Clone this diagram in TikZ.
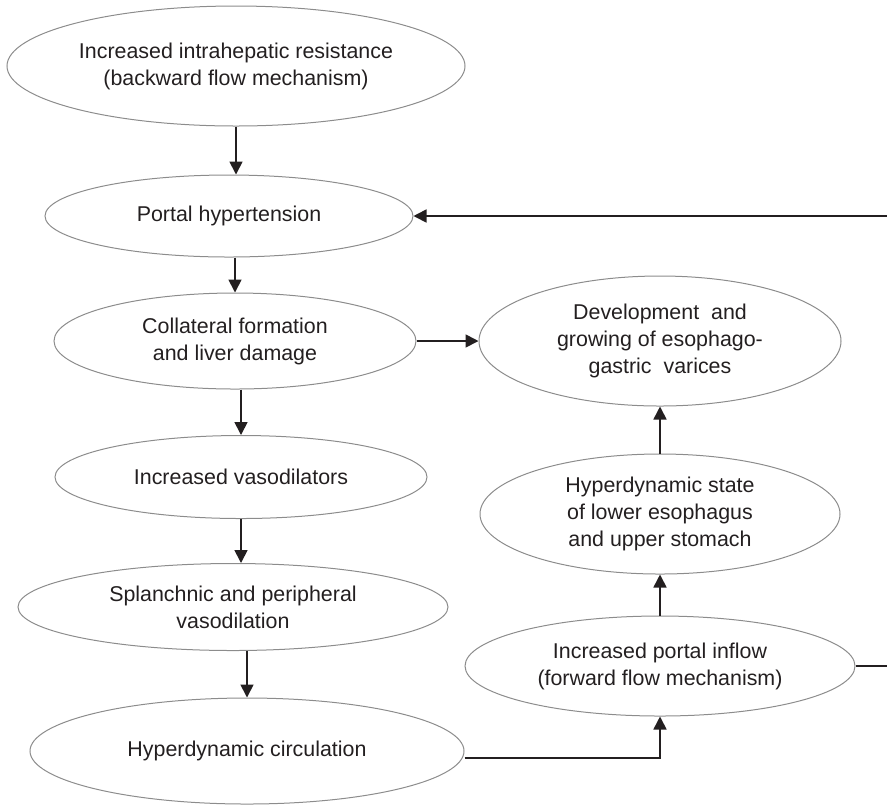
\documentclass[tikz,border=0pt]{standalone}
\usepackage{fontspec}
\setmainfont{Liberation Sans}
\usetikzlibrary{shapes.geometric,arrows.meta}
\definecolor{inkdark}{HTML}{231F20}
\definecolor{rimgray}{HTML}{8C8C8C}

\begin{document}
\begin{tikzpicture}[
  x=0.5pt,
  y=-0.5pt,
  every node/.style={font=\fontsize{10.7}{13.5}\selectfont, text=inkdark},
  bubble/.style={ellipse, draw=rimgray, line width=0.5pt, inner sep=0pt, align=center},
  link/.style={line width=0.85pt, draw=inkdark, -{Triangle[length=6.5pt,width=6.5pt]}}
]
  \useasboundingbox (0,0) rectangle (887,805);
  \clip (0,0) rectangle (887,805);
  \node[bubble, minimum width=229pt, minimum height=60pt] (resist) at (236,66)
    {Increased intrahepatic resistance\\(backward flow mechanism)};
  \node[bubble, minimum width=184pt, minimum height=41pt] (portal) at (229,216)
    {Portal hypertension};
  \node[bubble, minimum width=181pt, minimum height=48pt] (collat) at (235,341)
    {Collateral formation\\and liver damage};
  \node[bubble, minimum width=186pt, minimum height=41.5pt] (vasodil) at (241,477)
    {Increased vasodilators};
  \node[bubble, minimum width=215pt, minimum height=43.5pt] (splanch) at (233,607)
    {Splanchnic and peripheral\\vasodilation};
  \node[bubble, minimum width=217pt, minimum height=53pt] (hypcirc) at (247,751)
    {Hyperdynamic circulation};
  \node[bubble, minimum width=181pt, minimum height=65pt] (varices) at (660,341)
    {Development~~and\\growing of esophago-\\gastric~~varices};
  \node[bubble, minimum width=180pt, minimum height=60pt] (hypstate) at (660,514)
    {Hyperdynamic state\\of lower esophagus\\and upper stomach};
  \node[bubble, minimum width=195pt, minimum height=50pt] (inflow) at (660,666)
    {Increased portal inflow\\(forward flow mechanism)};

  \draw[link] (resist.south) -- (resist.south |- portal.north);
  \draw[link] (portal.south -| collat.north) -- (collat.north);
  \draw[link] (collat.south -| vasodil.north) -- (vasodil.north);
  \draw[link] (vasodil.south) -- (vasodil.south |- splanch.north);
  \draw[link] (splanch.south -| hypcirc.north) -- (hypcirc.north);
  \draw[link] (collat.east) -- (varices.west);
  \draw[link] ([yshift=-3.5pt]hypcirc.east) -| (inflow.south);
  \draw[link] (inflow.north) -- (hypstate.south);
  \draw[link] (hypstate.north) -- (varices.south);
  \draw[link] (inflow.east) -- ++(60,0) |- (portal.east);
\end{tikzpicture}
\end{document}
